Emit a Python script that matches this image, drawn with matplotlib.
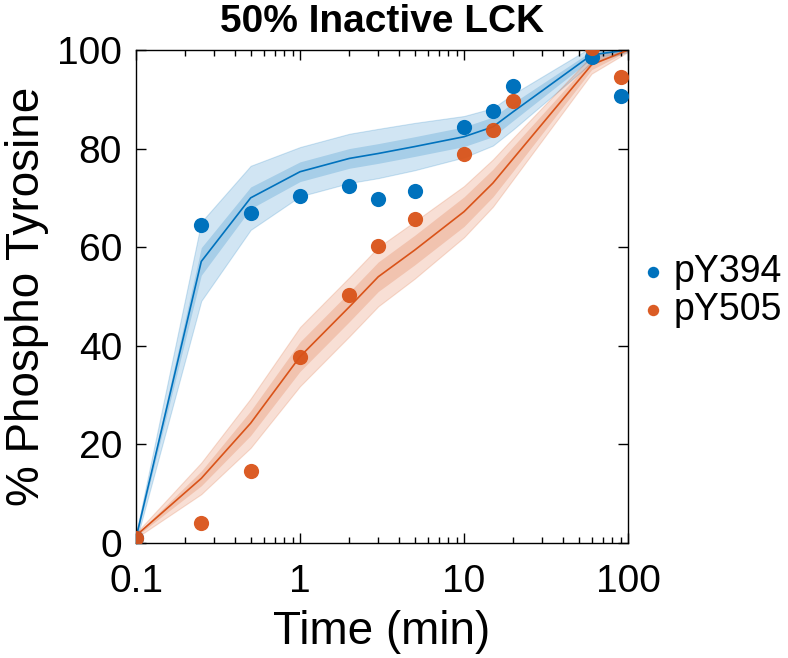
import numpy as np
import matplotlib.pyplot as plt

plt.rcParams['font.family'] = ['Liberation Sans', 'DejaVu Sans']

# measured data points
t_data = [0.1, 0.25, 0.5, 1, 2, 3, 5, 10, 15, 20, 60, 90]
pY394 = [1.0, 64.4, 67.0, 70.4, 72.4, 69.8, 71.4, 84.3, 87.6, 92.6, 98.6, 90.7]
pY505 = [1.0, 4.1, 14.5, 37.8, 50.2, 60.3, 65.7, 78.9, 83.8, 89.7, 100.3, 94.5]

# model fits with bands
t_model = [0.1, 0.25, 0.5, 1, 2, 3, 5, 10, 15, 20, 60, 100]
fit394 = [1.0, 57.1, 70.0, 75.3, 78.0, 79.0, 80.4, 82.4, 84.4, 87.5, 99.0, 100]
in394 = [0.3, 2.8, 2.2, 2.0, 2.0, 2.0, 2.0, 2.0, 2.0, 1.8, 0.8, 0.2]
out394 = [0.8, 8.0, 6.5, 5.0, 5.0, 5.0, 4.8, 4.2, 3.8, 3.6, 1.6, 0.4]
fit505 = [1.5, 13.1, 24.3, 37.8, 47.9, 54.0, 59.4, 67.2, 73.0, 78.0, 97.0, 100]
in505 = [0.2, 1.5, 2.5, 3.0, 3.0, 3.0, 3.0, 3.0, 2.8, 2.5, 1.0, 0.2]
out505 = [0.5, 3.2, 5.0, 6.0, 6.0, 6.0, 5.8, 5.2, 4.8, 4.2, 1.8, 0.4]

blue = '#0072BD'
orange = '#D95319'

fig = plt.figure(figsize=(7.88, 6.58), dpi=100)
ax = fig.add_axes([0.1726, 0.1748, 0.6244, 0.7493])

tm = np.array(t_model)
for fit, inn, out, c in [(fit394, in394, out394, blue), (fit505, in505, out505, orange)]:
    f = np.array(fit)
    ax.fill_between(tm, f - np.array(out), f + np.array(out), color=c, alpha=0.18, lw=0.8, edgecolor=c)
    ax.fill_between(tm, f - np.array(inn), f + np.array(inn), color=c, alpha=0.2, lw=0)
    ax.plot(tm, f, color=c, lw=1.2)

ax.scatter(t_data, pY394, s=120, color=blue, label='pY394', zorder=3, lw=0)
ax.scatter(t_data, pY505, s=120, color=orange, label='pY505', zorder=3, lw=0, alpha=0.95)

ax.set_xscale('log')
ax.set_xlim(0.1, 100)
ax.set_ylim(0, 100)
ax.set_xticks([0.1, 1, 10, 100])
ax.set_xticklabels(['0.1', '1', '10', '100'])
ax.set_yticks([0, 20, 40, 60, 80, 100])
ax.tick_params(which='both', direction='in', top=True, right=True, labelsize=28)
ax.tick_params(axis='y', pad=10)
ax.tick_params(axis='x', pad=15)
ax.tick_params(which='major', length=7, width=1)
ax.tick_params(which='minor', length=4, width=1)
for s in ax.spines.values():
    s.set_linewidth(1)

ax.set_xlabel('Time (min)', fontsize=33, labelpad=7)
ax.set_ylabel('% Phospho Tyrosine', fontsize=33, labelpad=6)
ax.set_title('50% Inactive LCK', fontsize=28, fontweight='bold', pad=13)

ax.legend(loc='center left', bbox_to_anchor=(1.028, 0.511), frameon=False, fontsize=27,
          handletextpad=0.24, labelspacing=0.05, borderpad=0, borderaxespad=0,
          handlelength=0.6, markerscale=0.75)

fig.savefig('out.png', dpi=100)
